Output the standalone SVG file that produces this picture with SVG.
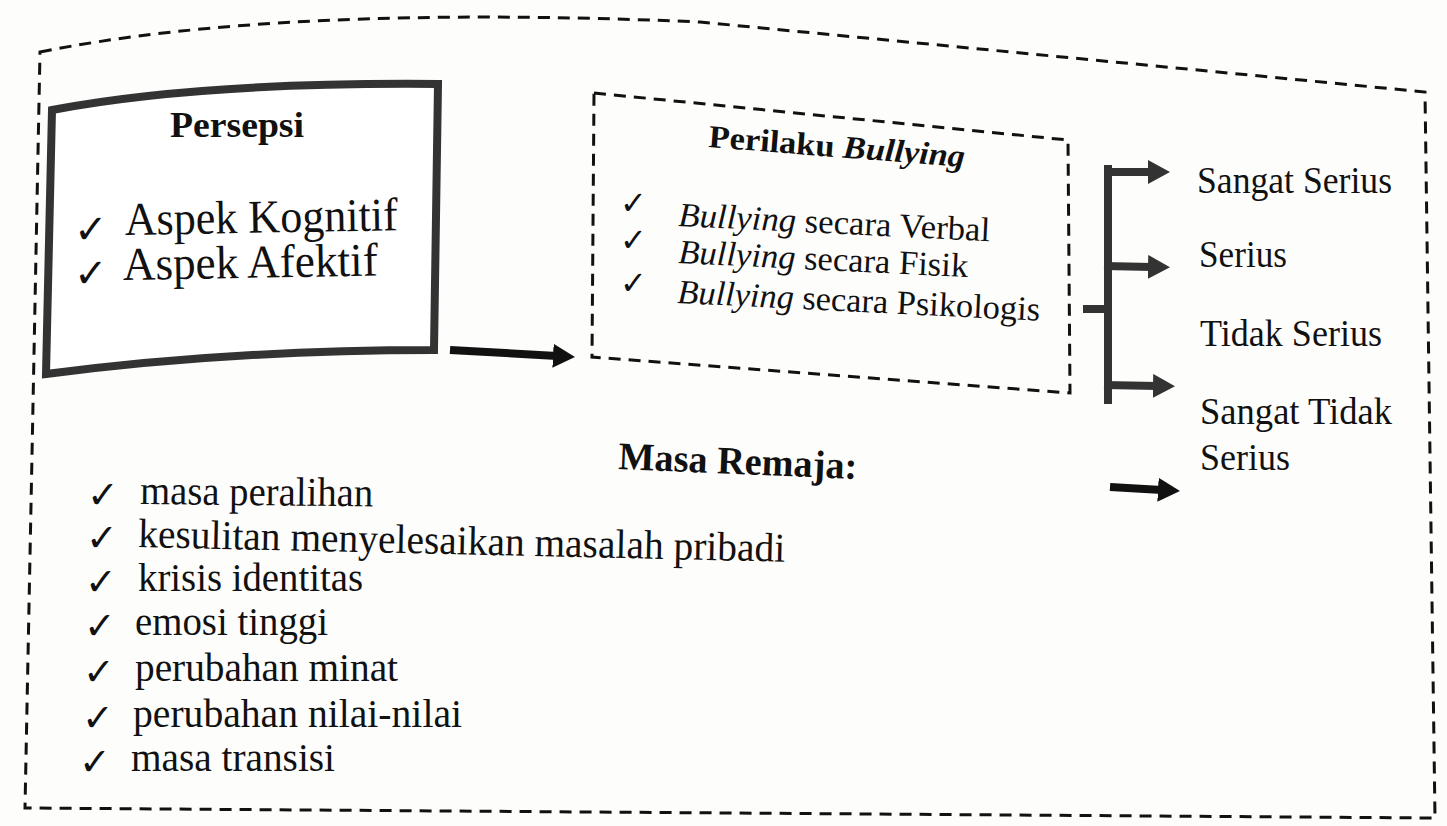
<svg xmlns="http://www.w3.org/2000/svg" width="1447" height="826" viewBox="0 0 1447 826">
<defs>
<style>
.serif{font-family:"Liberation Serif","Times New Roman",serif;fill:#111}
.chk{font-family:"DejaVu Sans",sans-serif;fill:#111}
.dash{fill:none;stroke:#111;stroke-width:3;stroke-dasharray:12 8}
.conn{fill:none;stroke:#333;stroke-width:8}
</style>
<marker id="ah" viewBox="0 0 22 24" refX="4" refY="12" markerWidth="22" markerHeight="24" orient="auto" markerUnits="userSpaceOnUse">
<path d="M0,0 L22,12 L0,24 Z" fill="#111"/>
</marker>
<marker id="ahg" viewBox="0 0 22 24" refX="4" refY="12" markerWidth="22" markerHeight="24" orient="auto" markerUnits="userSpaceOnUse">
<path d="M0,0 L22,12 L0,24 Z" fill="#333"/>
</marker>
</defs>
<rect width="1447" height="826" fill="#fdfdfc"/>
<g id="frame">
<path class="dash" d="M40,52 C200,20 420,10 700,22 L1425,92 L1435,818 L25,808 Z"/>
</g>
<g id="persepsi">
<path d="M52,110 Q200,82 438,84 L434,350 Q230,350 46,374 Z" fill="#fff" stroke="#333" stroke-width="8"/>
<text class="serif" x="237" y="137" font-size="35" font-weight="bold" text-anchor="middle" textLength="134" lengthAdjust="spacingAndGlyphs">Persepsi</text>
<text class="chk" x="74" y="243" font-size="40">✓</text>
<text class="serif" x="125" y="235" font-size="47" textLength="273" lengthAdjust="spacingAndGlyphs" transform="rotate(-1 125 235)">Aspek Kognitif</text>
<text class="chk" x="74" y="287" font-size="40">✓</text>
<text class="serif" x="123" y="280" font-size="47" textLength="255" lengthAdjust="spacingAndGlyphs" transform="rotate(-1 123 280)">Aspek Afektif</text>
</g>
<g id="perilaku">
<path class="dash" d="M594,93 L1068,140 L1070,393 L592,357 Z"/>
<text class="serif" x="708" y="147" font-size="32" font-weight="bold" textLength="257" lengthAdjust="spacingAndGlyphs" transform="rotate(4.5 708 147)">Perilaku <tspan font-style="italic">Bullying</tspan></text>
<text class="chk" x="620" y="214" font-size="32">✓</text>
<text class="serif" x="678" y="226" font-size="34" textLength="312" lengthAdjust="spacingAndGlyphs" transform="rotate(2.8 678 226)"><tspan font-style="italic">Bullying</tspan> secara Verbal</text>
<text class="chk" x="620" y="251" font-size="32">✓</text>
<text class="serif" x="678" y="263" font-size="34" textLength="290" lengthAdjust="spacingAndGlyphs" transform="rotate(2.8 678 263)"><tspan font-style="italic">Bullying</tspan> secara Fisik</text>
<text class="chk" x="620" y="294" font-size="32">✓</text>
<text class="serif" x="677" y="303" font-size="34" textLength="363" lengthAdjust="spacingAndGlyphs" transform="rotate(2.8 677 303)"><tspan font-style="italic">Bullying</tspan> secara Psikologis</text>
</g>
<g id="levels">
<text class="serif" x="1197" y="193" font-size="37" textLength="195" lengthAdjust="spacingAndGlyphs">Sangat Serius</text>
<text class="serif" x="1199" y="267" font-size="37" textLength="88" lengthAdjust="spacingAndGlyphs">Serius</text>
<text class="serif" x="1200" y="346" font-size="37" textLength="182" lengthAdjust="spacingAndGlyphs">Tidak Serius</text>
<text class="serif" x="1200" y="424" font-size="37" textLength="192" lengthAdjust="spacingAndGlyphs">Sangat Tidak</text>
<text class="serif" x="1200" y="470" font-size="37" textLength="90" lengthAdjust="spacingAndGlyphs">Serius</text>
</g>
<g id="masa-remaja">
<text class="serif" x="618" y="469" font-size="39" font-weight="bold" textLength="239" lengthAdjust="spacingAndGlyphs" transform="rotate(2.4 618 469)">Masa Remaja:</text>
<text class="chk" x="87" y="508" font-size="38">✓</text>
<text class="serif" x="140" y="504" font-size="41" textLength="233" lengthAdjust="spacingAndGlyphs" transform="rotate(0.6 140 504)">masa peralihan</text>
<text class="chk" x="86" y="551" font-size="38">✓</text>
<text class="serif" x="138" y="547" font-size="41" textLength="647" lengthAdjust="spacingAndGlyphs" transform="rotate(1.3 138 547)">kesulitan menyelesaikan masalah pribadi</text>
<text class="chk" x="85" y="595" font-size="38">✓</text>
<text class="serif" x="138" y="591" font-size="41" textLength="225" lengthAdjust="spacingAndGlyphs">krisis identitas</text>
<text class="chk" x="84" y="639" font-size="38">✓</text>
<text class="serif" x="135" y="635" font-size="41" textLength="193" lengthAdjust="spacingAndGlyphs">emosi tinggi</text>
<text class="chk" x="83" y="685" font-size="38">✓</text>
<text class="serif" x="135" y="681" font-size="41" textLength="263" lengthAdjust="spacingAndGlyphs">perubahan minat</text>
<text class="chk" x="82" y="731" font-size="38">✓</text>
<text class="serif" x="133" y="727" font-size="41" textLength="329" lengthAdjust="spacingAndGlyphs">perubahan nilai-nilai</text>
<text class="chk" x="79" y="775" font-size="38">✓</text>
<text class="serif" x="131" y="771" font-size="41" textLength="204" lengthAdjust="spacingAndGlyphs">masa transisi</text>
</g>
<g id="connectors">
<path d="M450,350 L557,356" fill="none" stroke="#111" stroke-width="8" marker-end="url(#ah)"/>
<path class="conn" d="M1083,309 L1108,309"/>
<path class="conn" d="M1108,165 L1108,404"/>
<path class="conn" d="M1104,172 L1152,172" marker-end="url(#ahg)"/>
<path class="conn" d="M1104,266 L1152,267" marker-end="url(#ahg)"/>
<path class="conn" d="M1104,385 L1157,386" marker-end="url(#ahg)"/>
<path d="M1110,487 L1162,490" fill="none" stroke="#111" stroke-width="8" marker-end="url(#ah)"/>
</g>
</svg>
